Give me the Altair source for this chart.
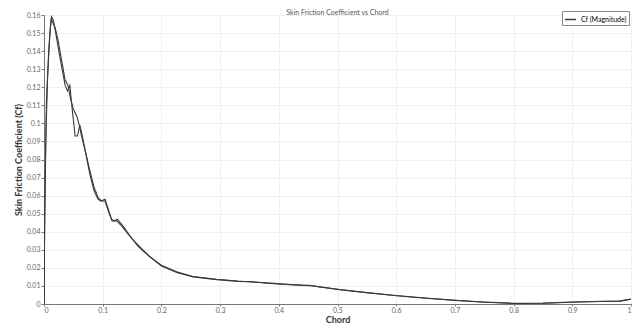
import altair as alt
import pandas as pd

chord_upper = [0, 0.001, 0.003, 0.006, 0.010, 0.013, 0.016, 0.020, 0.028, 0.036, 0.040, 0.044,
               0.048, 0.053, 0.057, 0.061, 0.066, 0.072, 0.078, 0.085, 0.092, 0.097, 0.104,
               0.110, 0.115, 0.120, 0.125, 0.135, 0.147, 0.160, 0.170, 0.181, 0.200, 0.226,
               0.254, 0.294, 0.33, 0.351, 0.38, 0.41, 0.436, 0.452, 0.47, 0.5, 0.55, 0.6,
               0.65, 0.7, 0.75, 0.8, 0.85, 0.9, 0.95, 0.98, 1.0]
cf_upper = [0.0, 0.04, 0.09, 0.125, 0.15, 0.159, 0.157, 0.150, 0.135, 0.121, 0.118, 0.121,
            0.108, 0.093, 0.093, 0.099, 0.092, 0.082, 0.072, 0.063, 0.058, 0.057, 0.058,
            0.052, 0.047, 0.046, 0.047, 0.043, 0.0375, 0.032, 0.029, 0.026, 0.021, 0.0175,
            0.015, 0.0135, 0.0125, 0.0124, 0.0115, 0.0108, 0.0105, 0.0103, 0.0095, 0.0082,
            0.0063, 0.0047, 0.0033, 0.0021, 0.0011, 0.0004, 0.0005, 0.0011, 0.0015, 0.0016,
            0.0027]

chord_lower = [0, 0.0015, 0.004, 0.008, 0.012, 0.016, 0.019, 0.024, 0.030, 0.036, 0.041,
               0.045, 0.050, 0.056, 0.060, 0.064, 0.070, 0.078, 0.085, 0.092, 0.098, 0.104,
               0.110, 0.116, 0.124, 0.130, 0.140, 0.150, 0.165, 0.181, 0.20, 0.226, 0.254,
               0.294, 0.33, 0.355, 0.38, 0.41, 0.44, 0.455, 0.47, 0.5, 0.55, 0.6, 0.65, 0.7,
               0.75, 0.8, 0.85, 0.9, 0.95, 0.98, 1.0]
cf_lower = [0.0, 0.06, 0.11, 0.14, 0.158, 0.155, 0.153, 0.146, 0.135, 0.124, 0.121, 0.114,
            0.108, 0.104, 0.099, 0.093, 0.085, 0.074, 0.065, 0.059, 0.057, 0.057, 0.051,
            0.046, 0.046, 0.044, 0.040, 0.036, 0.031, 0.026, 0.0215, 0.0178, 0.0152, 0.0137,
            0.0127, 0.0122, 0.0117, 0.011, 0.0103, 0.0101, 0.0094, 0.0081, 0.0062, 0.0046,
            0.0032, 0.0020, 0.0010, 0.0003, 0.0004, 0.0010, 0.0014, 0.0016, 0.0026]

series_name = "Cf (Magnitude)"

df = pd.concat([
    pd.DataFrame({"chord": chord_upper, "cf": cf_upper, "surface": "upper"}),
    pd.DataFrame({"chord": chord_lower, "cf": cf_lower, "surface": "lower"}),
])
df["series"] = series_name

FONT = "Lato"

chart = alt.Chart(df).mark_line(strokeWidth=1.1, clip=True).encode(
    x=alt.X("chord:Q", title="Chord",
            scale=alt.Scale(domain=[0, 1], nice=False),
            axis=alt.Axis(values=[i / 10 for i in range(11)], format="~g",
                          titleFontWeight="bold", titleFontSize=9, titlePadding=2,
                          labelFontSize=7, tickSize=2, labelPadding=0)),
    y=alt.Y("cf:Q", title="Skin Friction Coefficient (Cf)",
            scale=alt.Scale(domain=[0, 0.16], nice=False),
            axis=alt.Axis(values=[i / 100 for i in range(17)], format="~g",
                          titleFontWeight="bold", titleFontSize=9, titlePadding=3,
                          labelFontSize=7, tickSize=3, labelPadding=1)),
    color=alt.Color("series:N", scale=alt.Scale(range=["#3a3a3a"]),
                    legend=alt.Legend(title=None, orient="none", legendX=518, legendY=-4,
                                      symbolType="stroke", symbolSize=120, symbolStrokeWidth=1.5,
                                      labelFontSize=7, strokeColor="#888", padding=2,
                                      fillColor="white")),
    detail="surface:N",
).properties(
    width=587, height=289,
    autosize="none",
    padding={"left": 36, "top": 7, "right": 1, "bottom": 21},
    title=alt.TitleParams("Skin Friction Coefficient vs Chord", fontSize=7,
                          fontWeight="normal", color="#555", offset=-5, anchor="middle"),
).configure(font=FONT).configure_axis(
    domainColor="#777", tickColor="#777", labelColor="#666", titleColor="#333",
    gridColor="#f0f0f0", gridWidth=1,
).configure_view(stroke=None)

chart.save("out.html", embed_options={"renderer": "svg", "actions": False})
